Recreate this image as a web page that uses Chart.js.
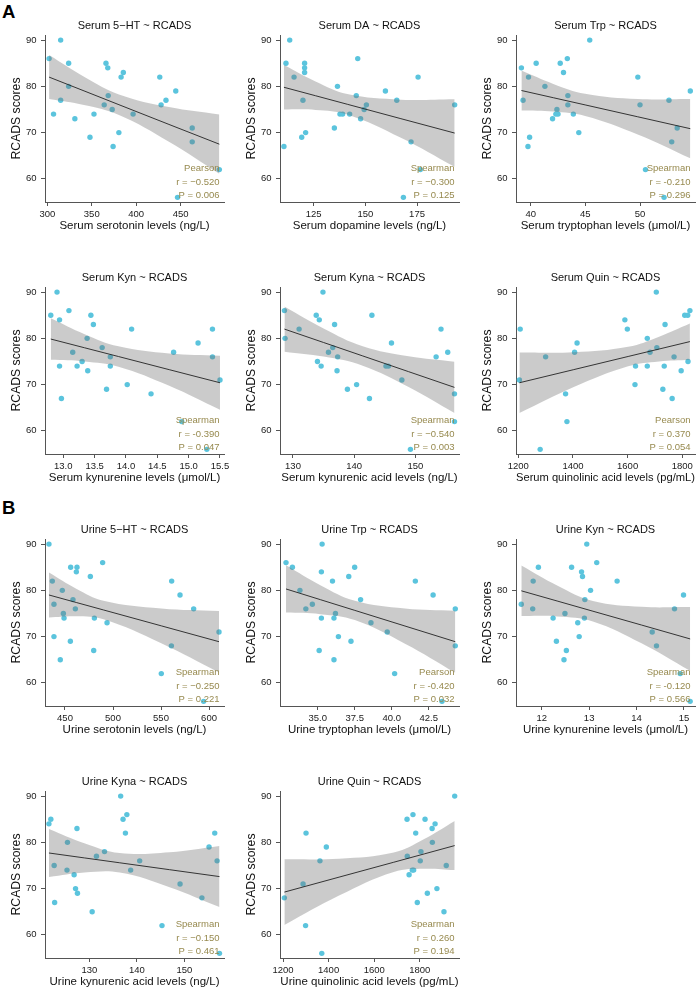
<!DOCTYPE html>
<html lang="en">
<head>
  <meta charset="UTF-8" />
  <title>RCADS correlations</title>
  <style>
    html, body { margin: 0; padding: 0; background: #fff; overflow: hidden; }
    body { width: 696px; height: 991px; position: relative; font-family: "Liberation Sans", Arial, sans-serif; }
    .panel { position: absolute; }
    .tag { position: absolute; left: 2px; font-size: 18.5px; font-weight: bold; line-height: 1; color: #000; }
  </style>
</head>
<body>
  <div class="tag" style="top:2.6px">A</div>
  <div class="tag" style="top:499px">B</div>

  <canvas class="panel" id="p1" width="236" height="235" style="left:0;top:0"></canvas>
  <canvas class="panel" id="p2" width="236" height="235" style="left:235px;top:0"></canvas>
  <canvas class="panel" id="p3" width="236" height="235" style="left:471px;top:0"></canvas>
  <canvas class="panel" id="p4" width="236" height="235" style="left:0;top:252px"></canvas>
  <canvas class="panel" id="p5" width="236" height="235" style="left:235px;top:252px"></canvas>
  <canvas class="panel" id="p6" width="236" height="235" style="left:471px;top:252px"></canvas>
  <canvas class="panel" id="p7" width="236" height="235" style="left:0;top:504px"></canvas>
  <canvas class="panel" id="p8" width="236" height="235" style="left:235px;top:504px"></canvas>
  <canvas class="panel" id="p9" width="236" height="235" style="left:471px;top:504px"></canvas>
  <canvas class="panel" id="p10" width="236" height="235" style="left:0;top:756px"></canvas>
  <canvas class="panel" id="p11" width="236" height="235" style="left:235px;top:756px"></canvas>

  <script src="https://cdn.jsdelivr.net/npm/chart.js@4.4.0/dist/chart.umd.min.js"></script>
  <script>
    // ---- data ----
    const yTicks = ['60', '70', '80', '90'];

    // Serum 5-HT
    const s5htX = [302, 315, 324, 324, 315, 307, 331, 348, 352.5, 366, 368, 368.5, 364, 373, 374, 380.5, 383, 385.5, 396.5, 426.5, 428, 433.5, 444.5, 446.5, 463, 463, 493.5];
    const s5htY = [86, 90, 85, 80, 77, 74, 73, 69, 74, 85, 84, 78, 76, 75, 67, 70, 82, 83, 74, 82, 76, 77, 79, 56, 71, 68, 62];
    const s5htBandX = [302, 341.3, 380.6, 436.8, 493.5];
    const s5htFit = [82, 79.02, 76.03, 71.77, 67.5];
    const s5htHi = [86.75, 82.08, 78.26, 75.51, 73.9];
    const s5htLo = [77.25, 75.96, 73.8, 68.03, 61.1];
    const s5htTicks = ['300', '350', '400', '450'];
    const s5htStats = ['Pearson', 'r = \u22120.520', 'P = 0.006'];

    // Serum DA
    const sdaX = [113.4, 111.6, 115.5, 120.6, 120.6, 120.6, 119.8, 119.2, 121.1, 110.6, 136.5, 135, 137.7, 139, 142.4, 145.6, 146.3, 147.7, 149.4, 150.5, 159.7, 165.2, 172.1, 175.5, 176.6, 168.4, 193.2];
    const sdaY = [90, 85, 82, 85, 84, 83, 77, 69, 70, 67, 80, 71, 74, 74, 74, 78, 86, 73, 75, 76, 79, 77, 68, 82, 62, 56, 76];
    const sdaBandX = [110.6, 125.9, 141.25, 167.2, 193.2];
    const sdaFit = [79.8, 77.97, 76.13, 73.01, 69.9];
    const sdaHi = [84.6, 81.03, 78.33, 77.13, 77.2];
    const sdaLo = [75.0, 74.91, 73.93, 68.89, 62.6];
    const sdaTicks = ['125', '150', '175'];
    const sdaStats = ['Spearman', 'r = \u22120.300', 'P = 0.125'];

    // Serum Trp
    const strpX = [39.15, 39.3, 39.8, 39.9, 39.75, 40.5, 41.3, 42.7, 43.0, 43.35, 42.4, 42.5, 42.3, 42.0, 43.4, 43.4, 43.9, 44.4, 45.4, 49.8, 50.0, 50.5, 52.2, 52.65, 53.4, 52.9, 54.6];
    const strpY = [84, 77, 82, 69, 67, 85, 80, 85, 83, 86, 75, 74, 74, 73, 78, 76, 74, 70, 90, 82, 76, 62, 56, 77, 71, 68, 79];
    const strpBandX = [39.15, 42.07, 44.98, 49.79, 54.6];
    const strpFit = [79.1, 77.54, 75.99, 73.42, 70.85];
    const strpHi = [83.4, 80.53, 78.39, 77.24, 77.25];
    const strpLo = [74.8, 74.55, 73.59, 69.6, 64.45];
    const strpTicks = ['40', '45', '50'];
    const strpStats = ['Spearman', 'r = -0.210', 'P = 0.296'];

    // Serum Kyn
    const skynX = [12.80, 12.90, 12.94, 13.09, 12.94, 12.97, 13.15, 13.22, 13.30, 13.38, 13.39, 13.44, 13.48, 13.62, 13.69, 13.75, 13.75, 14.02, 14.09, 14.40, 14.76, 14.89, 15.15, 15.38, 15.38, 15.29, 15.5];
    const skynY = [85, 90, 84, 86, 74, 67, 77, 74, 75, 80, 73, 85, 83, 78, 69, 76, 74, 70, 82, 68, 77, 62, 79, 82, 76, 56, 71];
    const skynBandX = [12.8, 13.34, 13.88, 14.69, 15.5];
    const skynFit = [79.85, 77.96, 76.07, 73.23, 70.4];
    const skynHi = [84.35, 80.91, 78.27, 76.72, 76.25];
    const skynLo = [75.35, 75.01, 73.87, 69.74, 64.55];
    const skynTicks = ['13.0', '13.5', '14.0', '14.5', '15.0', '15.5'];
    const skynStats = ['Spearman', 'r = -0.390', 'P = 0.047'];

    // Serum Kyna
    const skynaX = [128.6, 128.7, 131.0, 133.8, 134.3, 134.9, 134.0, 134.6, 135.8, 136.5, 136.8, 137.3, 137.2, 138.9, 140.4, 142.5, 142.9, 145.2, 145.6, 146.1, 147.8, 149.2, 153.4, 154.2, 155.3, 156.4, 156.4];
    const skynaY = [86, 80, 82, 85, 84, 90, 75, 74, 77, 78, 83, 76, 73, 69, 70, 67, 85, 74, 74, 79, 71, 56, 76, 82, 77, 68, 62];
    const skynaBandX = [128.6, 135.0, 141.4, 148.9, 156.4];
    const skynaFit = [82, 79.1, 76.2, 72.8, 69.4];
    const skynaHi = [86.9, 82.15, 78.3, 76.12, 74.95];
    const skynaLo = [77.1, 76.05, 74.1, 69.48, 63.85];
    const skynaTicks = ['130', '140', '150'];
    const skynaStats = ['Spearman', 'r = \u22120.540', 'P = 0.003'];

    // Serum Quin
    const squinX = [1204, 1207, 1300, 1373, 1378, 1280, 1406, 1415, 1590, 1599, 1629, 1627, 1672, 1672, 1682, 1705, 1707, 1729, 1737, 1734, 1770, 1763, 1796, 1809, 1820, 1828, 1821];
    const squinY = [71, 82, 76, 68, 62, 56, 77, 79, 84, 82, 74, 70, 80, 74, 77, 90, 78, 69, 83, 74, 76, 67, 73, 85, 85, 86, 75];
    const squinBandX = [1204, 1403, 1602, 1715, 1828];
    const squinFit = [70.4, 73.24, 76.08, 77.69, 79.3];
    const squinHi = [76.95, 76.99, 78.18, 80.36, 83.2];
    const squinLo = [63.85, 69.49, 73.98, 75.02, 75.4];
    const squinTicks = ['1200', '1400', '1600', '1800'];
    const squinStats = ['Pearson', 'r = 0.370', 'P = 0.054'];

    // Urine 5-HT
    const u5htX = [433.3, 436.8, 438.5, 438.5, 445.1, 447.2, 448.3, 449, 455.9, 455.6, 458.3, 460.8, 461.8, 462.5, 476.4, 479.9, 480.6, 489.2, 493.8, 550.3, 561.1, 560.8, 569.8, 584, 594.4, 610.4];
    const u5htY = [90, 82, 77, 70, 65, 80, 75, 74, 85, 69, 78, 76, 84, 85, 83, 67, 74, 86, 73, 62, 82, 68, 79, 76, 56, 71];
    const u5htBandX = [433.3, 461.7, 490.1, 550.25, 610.4];
    const u5htFit = [79, 77.38, 75.76, 72.33, 68.9];
    const u5htHi = [83.85, 80.36, 77.76, 76.08, 75.55];
    const u5htLo = [74.15, 74.4, 73.76, 68.58, 62.25];
    const u5htTicks = ['450', '500', '550', '600'];
    const u5htStats = ['Spearman', 'r = \u22120.250', 'P = 0.221'];

    // Urine Trp
    const utrpX = [32.86, 33.29, 33.8, 34.2, 34.64, 35.25, 35.3, 35.25, 35.1, 36.0, 36.1, 36.2, 36.1, 36.4, 37.1, 37.25, 37.5, 37.9, 38.6, 39.7, 40.2, 41.6, 42.8, 44.3, 44.3, 43.4];
    const utrpY = [86, 85, 80, 76, 77, 84, 90, 74, 67, 82, 74, 75, 65, 70, 83, 69, 85, 78, 73, 71, 62, 82, 79, 76, 68, 56];
    const utrpBandX = [32.86, 35.18, 37.51, 40.9, 44.3];
    const utrpFit = [80.3, 77.99, 75.67, 72.29, 68.9];
    const utrpHi = [85.4, 81.12, 77.77, 76.1, 75.6];
    const utrpLo = [75.2, 74.86, 73.57, 68.48, 62.2];
    const utrpTicks = ['35.0', '37.5', '40.0', '42.5'];
    const utrpStats = ['Pearson', 'r = -0.420', 'P = 0.032'];

    // Urine Kyn
    const ukynX = [11.57, 11.82, 11.81, 11.93, 12.24, 12.31, 12.47, 12.49, 12.52, 12.63, 12.84, 12.86, 12.76, 12.79, 12.91, 12.9, 12.95, 13.03, 13.16, 13.59, 14.33, 14.42, 14.8, 14.99, 14.92, 15.13];
    const ukynY = [77, 82, 76, 85, 74, 69, 65, 75, 67, 85, 84, 83, 73, 70, 78, 74, 90, 80, 86, 82, 71, 68, 76, 79, 62, 56];
    const ukynBandX = [11.57, 12.325, 13.08, 14.105, 15.13];
    const ukynFit = [79.9, 77.7, 75.49, 72.5, 69.5];
    const ukynHi = [85.35, 81.03, 77.69, 76.44, 76.4];
    const ukynLo = [74.45, 74.37, 73.29, 68.56, 62.6];
    const ukynTicks = ['12', '13', '14', '15'];
    const ukynStats = ['Spearman', 'r = -0.120', 'P = 0.566'];

    // Urine Kyna
    const ukynaX = [121.5, 121.9, 122.6, 122.7, 125.4, 125.3, 126.8, 127.1, 127.5, 127.4, 130.6, 131.5, 133.2, 136.6, 137.1, 137.9, 137.6, 138.7, 140.6, 145.3, 149.1, 153.7, 155.2, 156.4, 156.9, 157.4];
    const ukynaY = [84, 85, 75, 67, 80, 74, 73, 70, 69, 83, 65, 77, 78, 90, 85, 86, 82, 74, 76, 62, 71, 68, 79, 82, 76, 56];
    const ukynaBandX = [121.5, 128.95, 136.4, 146.9, 157.4];
    const ukynaFit = [77.7, 76.64, 75.58, 74.09, 72.6];
    const ukynaHi = [82.9, 79.81, 77.68, 77.86, 79.2];
    const ukynaLo = [72.5, 73.47, 73.48, 70.32, 66.0];
    const ukynaTicks = ['130', '140', '150'];
    const ukynaStats = ['Spearman', 'r = \u22120.150', 'P = 0.461'];

    // Urine Quin
    const uquinX = [1206, 1288, 1299, 1301, 1362, 1370, 1390, 1744, 1770, 1745, 1753, 1767, 1773, 1782, 1789, 1805, 1802, 1823, 1833, 1854, 1855, 1867, 1875, 1916, 1906, 1953];
    const uquinY = [68, 71, 62, 82, 76, 56, 79, 85, 86, 77, 73, 74, 74, 82, 67, 78, 76, 85, 69, 83, 80, 84, 70, 75, 65, 90];
    const uquinBandX = [1206, 1445.9, 1685.7, 1819.4, 1953];
    const uquinFit = [69.25, 72.48, 75.7, 77.5, 79.3];
    const uquinHi = [76.35, 76.47, 77.8, 80.71, 84.6];
    const uquinLo = [62.15, 68.49, 73.6, 74.29, 74.0];
    const uquinTicks = ['1200', '1400', '1600', '1800'];
    const uquinStats = ['Spearman', 'r = 0.260', 'P = 0.194'];

    // ---- drawing ----
    const FONT = '"Liberation Sans", Arial, Helvetica, sans-serif';
    Chart.defaults.font.family = FONT;
    Chart.defaults.color = '#1a1a1a';

    const POINT = '#5bc4dd';
    const BAND = 'rgba(110,110,110,0.36)';
    const AXIS = '#555555';
    const STAT = '#978a4f';

    // method / r / P text in the lower right corner
    const statsText = {
      id: 'statsText',
      afterDatasetsDraw(chart, args, opts) {
        const { ctx, chartArea } = chart;
        ctx.save();
        ctx.font = '9.5px ' + FONT;
        ctx.fillStyle = STAT;
        ctx.textAlign = 'right';
        ctx.textBaseline = 'alphabetic';
        opts.lines.forEach((t, i) => {
          ctx.fillText(t, chartArea.right - 4.5, chartArea.bottom - 4 - (2 - i) * 13.5);
        });
        ctx.restore();
      }
    };

    function pts(xs, ys) {
      return xs.map((x, i) => ({ x: x, y: ys[i] }));
    }

    function drawPanel(id, p) {
      const xTickVals = p.ticks.map(Number);
      const yTickVals = yTicks.map(Number);
      const axisGrid = { drawOnChartArea: false, drawTicks: true, tickLength: 4, color: AXIS, lineWidth: 1 };
      const axisBorder = { display: true, color: AXIS, width: 1 };

      return new Chart(document.getElementById(id), {
        type: 'scatter',
        data: {
          datasets: [
            {
              type: 'scatter',
              data: pts(p.x, p.y),
              pointBackgroundColor: POINT,
              pointBorderWidth: 0,
              pointRadius: 2.7,
              pointHoverRadius: 2.7,
              order: 3
            },
            {
              type: 'line',
              data: pts(p.bandX, p.hi),
              fill: '+1',
              backgroundColor: BAND,
              borderColor: 'transparent',
              borderWidth: 0,
              pointRadius: 0,
              tension: 0.4,
              order: 2
            },
            {
              type: 'line',
              data: pts(p.bandX, p.lo),
              fill: false,
              borderColor: 'transparent',
              borderWidth: 0,
              pointRadius: 0,
              tension: 0.4,
              order: 2
            },
            {
              type: 'line',
              data: pts(p.bandX, p.fit),
              fill: false,
              borderColor: '#222222',
              borderWidth: 0.9,
              pointRadius: 0,
              tension: 0,
              order: 1
            }
          ]
        },
        options: {
          responsive: false,
          animation: false,
          events: [],
          devicePixelRatio: 1,
          layout: { padding: { left: 0, right: 12, top: 0, bottom: 1 } },
          scales: {
            x: {
              type: 'linear',
              position: 'bottom',
              min: p.xMin,
              max: p.xMax,
              afterBuildTicks: s => { s.ticks = xTickVals.map(v => ({ value: v })); },
              afterFit: s => { s.height = 32; },
              ticks: {
                callback: (v, i) => p.ticks[i],
                autoSkip: false,
                maxRotation: 0,
                minRotation: 0,
                padding: 2.5,
                color: '#1a1a1a',
                font: { size: 9.5 }
              },
              grid: axisGrid,
              border: axisBorder,
              title: {
                display: true,
                text: p.xTitle,
                color: '#111111',
                font: { size: 11.5, lineHeight: 1.2 },
                padding: { top: 0, bottom: 0.8 }
              }
            },
            y: {
              type: 'linear',
              position: 'left',
              min: 55,
              max: 91.1,
              afterBuildTicks: s => { s.ticks = yTickVals.map(v => ({ value: v })); },
              afterFit: s => { s.width = 45; },
              ticks: {
                callback: (v, i) => yTicks[i],
                padding: 4.5,
                color: '#1a1a1a',
                font: { size: 9.5 }
              },
              grid: axisGrid,
              border: axisBorder,
              title: {
                display: true,
                text: 'RCADS scores',
                color: '#111111',
                font: { size: 12.2, lineHeight: 1.2 },
                padding: { top: 9.5, bottom: 0 }
              }
            }
          },
          plugins: {
            legend: { display: false },
            tooltip: { enabled: false },
            title: {
              display: true,
              text: p.title,
              fullSize: false,
              color: '#111111',
              font: { size: 11, weight: 'normal', lineHeight: 1.2 },
              padding: { top: 19.7, bottom: 2.1 }
            },
            statsText: { lines: p.stats }
          }
        },
        plugins: [statsText]
      });
    }

    drawPanel('p1', { title: 'Serum 5\u2212HT ~ RCADS', xTitle: 'Serum serotonin levels (ng/L)',
      x: s5htX, y: s5htY, bandX: s5htBandX, fit: s5htFit, hi: s5htHi, lo: s5htLo,
      ticks: s5htTicks, stats: s5htStats, xMin: 297.4, xMax: 498.75 });

    drawPanel('p2', { title: 'Serum DA ~ RCADS', xTitle: 'Serum dopamine levels (ng/L)',
      x: sdaX, y: sdaY, bandX: sdaBandX, fit: sdaFit, hi: sdaHi, lo: sdaLo,
      ticks: sdaTicks, stats: sdaStats, xMin: 108.7, xMax: 195.3 });

    drawPanel('p3', { title: 'Serum Trp ~ RCADS', xTitle: 'Serum tryptophan levels (\u03bcmol/L)',
      x: strpX, y: strpY, bandX: strpBandX, fit: strpFit, hi: strpHi, lo: strpLo,
      ticks: strpTicks, stats: strpStats, xMin: 38.655, xMax: 55.03 });

    drawPanel('p4', { title: 'Serum Kyn ~ RCADS', xTitle: 'Serum kynurenine levels (\u03bcmol/L)',
      x: skynX, y: skynY, bandX: skynBandX, fit: skynFit, hi: skynHi, lo: skynLo,
      ticks: skynTicks, stats: skynStats, xMin: 12.708, xMax: 15.564 });

    drawPanel('p5', { title: 'Serum Kyna ~ RCADS', xTitle: 'Serum kynurenic acid levels (ng/L)',
      x: skynaX, y: skynaY, bandX: skynaBandX, fit: skynaFit, hi: skynaHi, lo: skynaLo,
      ticks: skynaTicks, stats: skynaStats, xMin: 127.875, xMax: 157.14 });

    drawPanel('p6', { title: 'Serum Quin ~ RCADS', xTitle: 'Serum quinolinic acid levels (pg/mL)',
      x: squinX, y: squinY, bandX: squinBandX, fit: squinFit, hi: squinHi, lo: squinLo,
      ticks: squinTicks, stats: squinStats, xMin: 1191.6, xMax: 1846.6 });

    drawPanel('p7', { title: 'Urine 5\u2212HT ~ RCADS', xTitle: 'Urine serotonin levels (ng/L)',
      x: u5htX, y: u5htY, bandX: u5htBandX, fit: u5htFit, hi: u5htHi, lo: u5htLo,
      ticks: u5htTicks, stats: u5htStats, xMin: 429.17, xMax: 615.6 });

    drawPanel('p8', { title: 'Urine Trp ~ RCADS', xTitle: 'Urine tryptophan levels (\u03bcmol/L)',
      x: utrpX, y: utrpY, bandX: utrpBandX, fit: utrpFit, hi: utrpHi, lo: utrpLo,
      ticks: utrpTicks, stats: utrpStats, xMin: 32.453, xMax: 44.55 });

    drawPanel('p9', { title: 'Urine Kyn ~ RCADS', xTitle: 'Urine kynurenine levels (\u03bcmol/L)',
      x: ukynX, y: ukynY, bandX: ukynBandX, fit: ukynFit, hi: ukynHi, lo: ukynLo,
      ticks: ukynTicks, stats: ukynStats, xMin: 11.458, xMax: 15.232 });

    drawPanel('p10', { title: 'Urine Kyna ~ RCADS', xTitle: 'Urine kynurenic acid levels (ng/L)',
      x: ukynaX, y: ukynaY, bandX: ukynaBandX, fit: ukynaFit, hi: ukynaHi, lo: ukynaLo,
      ticks: ukynaTicks, stats: ukynaStats, xMin: 120.67, xMax: 158.35 });

    drawPanel('p11', { title: 'Urine Quin ~ RCADS', xTitle: 'Urine quinolinic acid levels (pg/mL)',
      x: uquinX, y: uquinY, bandX: uquinBandX, fit: uquinFit, hi: uquinHi, lo: uquinLo,
      ticks: uquinTicks, stats: uquinStats, xMin: 1186.8, xMax: 1971.9 });
  </script>
</body>
</html>
